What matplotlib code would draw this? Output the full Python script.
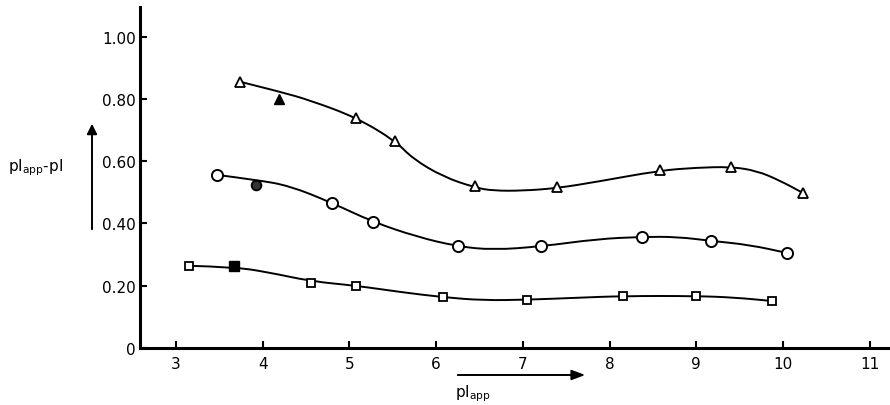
import matplotlib
matplotlib.use("Agg")
import matplotlib.pyplot as plt
from matplotlib.path import Path
from matplotlib.patches import PathPatch

# ---- data ----
tri_x = [3.74, 5.08, 5.53, 6.45, 7.39, 8.58, 9.40, 10.23]
tri_y = [0.855, 0.740, 0.665, 0.520, 0.518, 0.572, 0.582, 0.498]
tri_fill_x = [4.19]
tri_fill_y = [0.800]

cir_x = [3.47, 4.80, 5.27, 6.25, 7.21, 8.37, 9.17, 10.05]
cir_y = [0.556, 0.466, 0.405, 0.328, 0.328, 0.357, 0.344, 0.305]
cir_fill_x = [3.92]
cir_fill_y = [0.522]

sq_x = [3.15, 4.56, 5.08, 6.08, 7.05, 8.16, 9.00, 9.87]
sq_y = [0.264, 0.209, 0.200, 0.164, 0.155, 0.167, 0.167, 0.151]
sq_fill_x = [3.67]
sq_fill_y = [0.264]

# fitted curves as drawn in the figure
tri_curve_x = [3.74, 4.20, 4.55, 5.08, 5.53, 5.73, 6.08, 6.45, 6.66, 7.00, 7.39, 7.86, 8.58, 9.00, 9.40, 9.70, 9.97, 10.23]
tri_curve_y = [0.855, 0.823, 0.795, 0.740, 0.665, 0.608, 0.550, 0.515, 0.505, 0.505, 0.513, 0.534, 0.570, 0.579, 0.582, 0.569, 0.537, 0.498]

cir_curve_x = [3.47, 3.92, 4.31, 4.80, 5.27, 5.78, 6.25, 6.66, 7.21, 7.86, 8.37, 8.78, 9.17, 9.62, 10.05]
cir_curve_y = [0.556, 0.540, 0.521, 0.466, 0.405, 0.357, 0.326, 0.315, 0.326, 0.350, 0.357, 0.357, 0.344, 0.331, 0.305]

sq_curve_x = [3.15, 3.67, 4.05, 4.56, 5.08, 5.58, 6.08, 6.54, 7.05, 7.60, 8.16, 9.00, 9.45, 9.87]
sq_curve_y = [0.264, 0.260, 0.244, 0.214, 0.200, 0.180, 0.163, 0.153, 0.155, 0.161, 0.167, 0.167, 0.162, 0.151]

x_ticks = [3, 4, 5, 6, 7, 8, 9, 10, 11]
y_ticks = [0, 0.2, 0.4, 0.6, 0.8, 1.0]
y_ticklabels = ["0", "0.20", "0.40", "0.60", "0.80", "1.00"]


def smooth_path(xs, ys):
    # quadratic Bezier through midpoints for a smooth hand-drawn look
    verts = [(xs[0], ys[0])]
    codes = [Path.MOVETO]
    pts = list(zip(xs, ys))
    for i in range(1, len(pts) - 1):
        mx = (pts[i][0] + pts[i + 1][0]) / 2
        my = (pts[i][1] + pts[i + 1][1]) / 2
        verts += [pts[i], (mx, my)]
        codes += [Path.CURVE3, Path.CURVE3]
    verts.append(pts[-1])
    codes.append(Path.LINETO)
    return Path(verts, codes)


fig = plt.figure(figsize=(8.9, 4.06), dpi=100)
ax = fig.add_axes([140 / 890, 57 / 406, 750 / 890, 341 / 406])

for cx, cy in [(tri_curve_x, tri_curve_y), (cir_curve_x, cir_curve_y), (sq_curve_x, sq_curve_y)]:
    ax.add_patch(PathPatch(smooth_path(cx, cy), facecolor="none", edgecolor="black", lw=1.4, zorder=2))

mk = dict(color="black", linestyle="none", zorder=3)
ax.plot(tri_x, tri_y, marker="^", ms=7, mfc="white", mec="black", mew=1.3, **mk)
ax.plot(tri_fill_x, tri_fill_y, marker="^", ms=7, mfc="black", mec="black", **mk)
ax.plot(cir_x, cir_y, marker="o", ms=8, mfc="white", mec="black", mew=1.4, **mk)
ax.plot(cir_fill_x, cir_fill_y, marker="o", ms=7, mfc="#333333", mec="black", mew=1.3, **mk)
ax.plot(sq_x, sq_y, marker="s", ms=6, mfc="white", mec="black", mew=1.3, **mk)
ax.plot(sq_fill_x, sq_fill_y, marker="s", ms=6.5, mfc="black", mec="black", **mk)

ax.set_xlim(2.585, 11.235)
ax.set_ylim(0, 1.095)

for s in ["top", "right"]:
    ax.spines[s].set_visible(False)
for s in ["left", "bottom"]:
    ax.spines[s].set_linewidth(2.2)

ax.set_xticks(x_ticks)
ax.set_xticklabels([str(t) for t in x_ticks])
ax.set_yticks(y_ticks)
ax.set_yticklabels(y_ticklabels)
ax.tick_params(axis="both", direction="in", length=5, width=1.5, labelsize=11, colors="black")
ax.tick_params(axis="x", pad=6)
ax.tick_params(axis="y", pad=3)

# y label with arrow
fig.text(8 / 890, 1 - 168 / 406, r"pI$_{\mathrm{app}}$-pI", fontsize=11, ha="left", va="center")
fig.add_artist(matplotlib.patches.FancyArrowPatch((92 / 890, 1 - 233 / 406), (92 / 890, 1 - 122 / 406),
                                                 transform=fig.transFigure, arrowstyle="-|>,head_length=6,head_width=3",
                                                 lw=1.4, color="black", mutation_scale=1))
# x label with arrow
fig.add_artist(matplotlib.patches.FancyArrowPatch((455 / 890, 1 - 376 / 406), (588 / 890, 1 - 376 / 406),
                                                 transform=fig.transFigure, arrowstyle="-|>,head_length=8,head_width=3",
                                                 lw=1.4, color="black", mutation_scale=1))
fig.text(455 / 890, 1 - 394 / 406, r"pI$_{\mathrm{app}}$", fontsize=11, ha="left", va="center")

fig.savefig("out.png", dpi=100, facecolor="white")
